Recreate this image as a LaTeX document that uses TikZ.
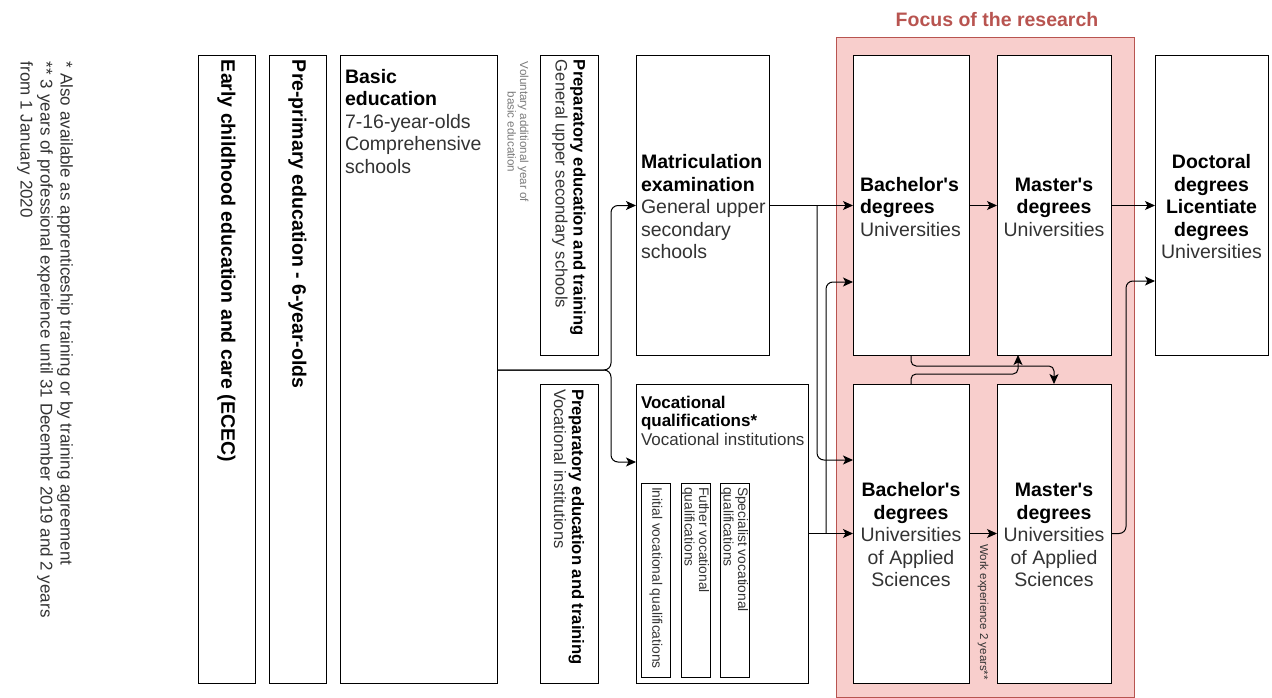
\documentclass[tikz,border=0pt]{standalone}
\usepackage{fontspec}
\setmainfont{Liberation Sans}
\usetikzlibrary{arrows.meta,calc}
\definecolor{focusfill}{HTML}{F8CECC}
\definecolor{focusline}{HTML}{B85450}
\definecolor{subtxt}{HTML}{333333}
\definecolor{lighttxt}{HTML}{7A7A7A}
\newcommand\bx[6][]{\node[box,#1,minimum width=#5pt,minimum height=#6pt] (#2) at (#3,#4) {};}
\newcommand\apos{\textquotesingle}
\begin{document}
\begin{tikzpicture}[x=1pt,y=-1pt,
  box/.style={draw=black,line width=1pt,fill=white,inner sep=0pt,outer sep=0pt,anchor=north west},
  txt/.style={inner sep=0pt,outer sep=0pt,text=black,font=\fontsize{19.5}{22.5}\selectfont},
  vtxt/.style={txt,rotate=-90,anchor=west},
  arr/.style={draw=black,line width=1pt,-{Stealth[length=10pt,width=9pt,inset=2.5pt]},rounded corners=7pt},
  arrs/.style={arr,rounded corners=5pt}]
\useasboundingbox (0,0) rectangle (1272,698);
% focus area
\node[box,draw=focusline,fill=focusfill,minimum width=298pt,minimum height=659pt] (focus) at (836,38) {};
\node[txt,font=\fontsize{19.5}{22.5}\selectfont\bfseries,text=focusline] (focusT) at (997,20) {Focus of the research};
% notes
\node[vtxt,align=left,text=subtxt,font=\fontsize{17}{20}\selectfont] (notes) at (45,62)
  {* Also available as apprenticeship training or by training agreement\\** 3 years of professional experience until 31 December 2019 and 2 years\\from 1 January 2020};
% boxes
\bx{ecec}{198}{56}{57}{627}
\bx{prep}{269}{56}{57}{627}
\bx{basic}{340}{56}{157}{627}
\bx{prepgen}{540}{56}{58}{299}
\bx{prepvoc}{540}{384}{58}{299}
\bx{matric}{636}{56}{133}{299}
\bx{voc}{636}{384}{172}{299}
\bx{ivq}{641}{483}{29}{194}
\bx{fvq}{681}{483}{29}{194}
\bx{svq}{720}{483}{29}{194}
\bx{bachu}{853}{56}{116}{299}
\bx{mastu}{997}{56}{114}{299}
\bx{doct}{1155}{56}{113}{299}
\bx{bachuas}{853}{384}{116}{299}
\bx{mastuas}{997}{384}{114}{299}
% texts
\node[vtxt,font=\fontsize{19.5}{22.5}\selectfont\bfseries] (ececT) at (226.5,60) {Early childhood education and care (ECEC)};
\node[vtxt,font=\fontsize{19.5}{22.5}\selectfont\bfseries] (prepT) at (297.5,60) {Pre-primary education - 6-year-olds};
\node[txt,anchor=north west,align=left] (basicT) at (345,69)
  {\textbf{Basic}\\\textbf{education}\\{\color{subtxt}7-16-year-olds}\\{\color{subtxt}Comprehensive}\\{\color{subtxt}schools}};
\node[vtxt,align=center,text=lighttxt,font=\fontsize{11.6}{12.5}\selectfont] (volT) at (518,62)
  {Voluntary additional year of\\basic education};
\node[vtxt,align=left,font=\fontsize{16.6}{18}\selectfont] (prepgenT) at (569,60)
  {\textbf{Preparatory education and training}\\{\color{subtxt}General upper secondary schools}};
\node[vtxt,align=left,font=\fontsize{16.6}{18}\selectfont] (prepvocT) at (569,389)
  {\textbf{Preparatory education and training}\\{\color{subtxt}Vocational institutions}};
\node[txt,anchor=west,align=left] (matricT) at (641,207)
  {\textbf{Matriculation}\\\textbf{examination}\\{\color{subtxt}General upper}\\{\color{subtxt}secondary}\\{\color{subtxt}schools}};
\node[txt,anchor=north west,align=left,font=\fontsize{17}{18.5}\selectfont] (vocT) at (641,396)
  {\textbf{Vocational}\\\textbf{qualifications*}\\{\color{subtxt}Vocational institutions}};
\node[vtxt,text=subtxt,font=\fontsize{13.8}{14.5}\selectfont] (ivqT) at (656,487) {Initial vocational qualifications};
\node[vtxt,align=left,text=subtxt,font=\fontsize{13.8}{14.5}\selectfont] (fvqT) at (695.5,487) {Futher vocational\\qualifications};
\node[vtxt,align=left,text=subtxt,font=\fontsize{13.8}{14.5}\selectfont] (svqT) at (734.5,487) {Specialist vocational\\qualifications};
\node[txt,anchor=west,align=left] (bachuT) at (860,207)
  {\textbf{Bachelor\apos s}\\\textbf{degrees}\\{\color{subtxt}Universities}};
\node[txt,align=center] (mastuT) at (1054,207)
  {\textbf{Master\apos s}\\\textbf{degrees}\\{\color{subtxt}Universities}};
\node[txt,align=center] (doctT) at (1211.5,207)
  {\textbf{Doctoral}\\\textbf{degrees}\\\textbf{Licentiate}\\\textbf{degrees}\\{\color{subtxt}Universities}};
\node[txt,align=center] (bachuasT) at (911,535)
  {\textbf{Bachelor\apos s}\\\textbf{degrees}\\{\color{subtxt}Universities}\\{\color{subtxt}of Applied}\\{\color{subtxt}Sciences}};
\node[txt,align=center] (mastuasT) at (1054,535)
  {\textbf{Master\apos s}\\\textbf{degrees}\\{\color{subtxt}Universities}\\{\color{subtxt}of Applied}\\{\color{subtxt}Sciences}};
\node[txt,rotate=-90,text=subtxt,font=\fontsize{11.5}{12.5}\selectfont] (workT) at (983,612) {Work experience 2 years**};
% connectors
\draw[arr] (basic.east |- 0,370) -- (611,370) -- (611,205.5) -- (matric.west);
\draw[arr] (basic.east |- 0,370) -- (611,370) -- (611,462) -- (voc.west |- 0,462);
\draw[arr] (matric.east) -- (bachu.west);
\draw[arr] (matric.east -| 817,0) -- (817,460) -- (bachuas.west |- 0,460);
\draw[arr] (voc.east) -- (bachuas.west);
\draw[arr] (voc.east -| 826,0) -- (826,282) -- (bachu.west |- 0,282);
\draw[arr] (bachu.east) -- (mastu.west);
\draw[arr] (bachuas.east) -- (mastuas.west);
\draw[arr] (mastu.east) -- (doct.west);
\draw[arr] (mastuas.east) -- (1126,533.5) -- (1126,281) -- (doct.west |- 0,281);
\draw[arrs] (bachu.south) -- (911,366) -- (1054,366) -- (mastuas.north);
\draw[arrs] (bachuas.north) -- (911,374) -- (1018,374) -- (1018,0 |- mastu.south);
\end{tikzpicture}
\end{document}
